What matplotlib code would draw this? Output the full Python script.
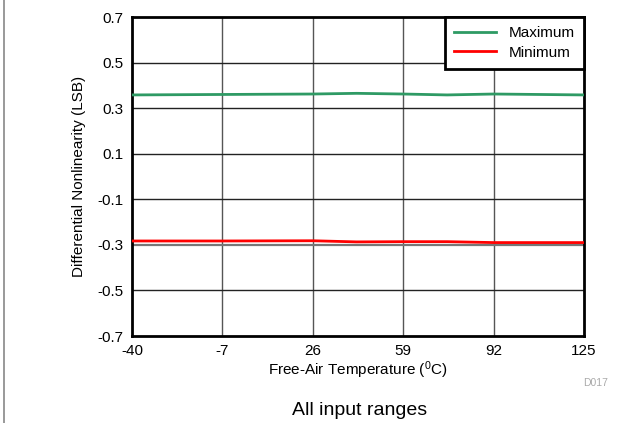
import matplotlib
matplotlib.use("Agg")
import matplotlib.pyplot as plt

plt.rcParams['font.family'] = ['Liberation Sans', 'DejaVu Sans']

# temperatures (C)
temp = [-40, -7, 26, 42, 59, 75, 92, 125]
# DNL max / min (LSB)
dnl_max = [0.358, 0.360, 0.362, 0.365, 0.362, 0.358, 0.362, 0.358]
dnl_min = [-0.283, -0.283, -0.282, -0.287, -0.286, -0.286, -0.290, -0.290]

xticks = [-40, -7, 26, 59, 92, 125]
xlabels = ['-40', '-7', '26', '59', '92', '125']
yticks = [-0.7, -0.5, -0.3, -0.1, 0.1, 0.3, 0.5, 0.7]
ylabels = ['-0.7', '-0.5', '-0.3', '-0.1', '0.1', '0.3', '0.5', '0.7']

fig = plt.figure(figsize=(6.28, 4.23), dpi=100)
ax = fig.add_axes([132 / 628, 1 - 336 / 423, (584 - 132) / 628, (336 - 17) / 423])

# grid
for t in xticks[1:-1]:
    ax.axvline(t, color='#555555', lw=1.0, zorder=1)
for v in yticks[1:-1]:
    ax.axhline(v, color='#222222' if v != -0.3 else '#777777', lw=1.0 if v != -0.3 else 1.6, zorder=1)

ax.plot(temp, dnl_max, color='#2e9a64', lw=2, label='Maximum', zorder=3)
ax.plot(temp, dnl_min, color='#ff0000', lw=2, label='Minimum', zorder=3)

ax.set_xlim(-40, 125)
ax.set_ylim(-0.7, 0.7)
ax.set_xticks(xticks)
ax.set_xticklabels(xlabels)
ax.set_yticks(yticks)
ax.set_yticklabels(ylabels)
ax.tick_params(length=0, labelsize=11, pad=6)
for s in ax.spines.values():
    s.set_linewidth(2)
    s.set_color('black')

ax.set_xlabel(r'Free-Air Temperature ($\mathregular{^0}$C)', fontsize=11, labelpad=1)
ax.set_ylabel('Differential Nonlinearity (LSB)', fontsize=11, labelpad=8)

leg = ax.legend(loc='upper right', fontsize=11, fancybox=False, framealpha=1,
                borderaxespad=0, handlelength=2.8, edgecolor='black', borderpad=0.6,
                labelspacing=0.35, handletextpad=0.8)
leg.get_frame().set_linewidth(2)

fig.text(596 / 628, 1 - 383 / 423, 'D017', color='#aaaaaa', fontsize=7.5, ha='center', va='center')
fig.text(360 / 628, 1 - 410 / 423, 'All input ranges', fontsize=14, ha='center', va='center')
fig.add_artist(plt.Line2D([4 / 628, 4 / 628], [0, 1], color='#888888', lw=1.2, transform=fig.transFigure))

fig.savefig('out.png', dpi=100)
